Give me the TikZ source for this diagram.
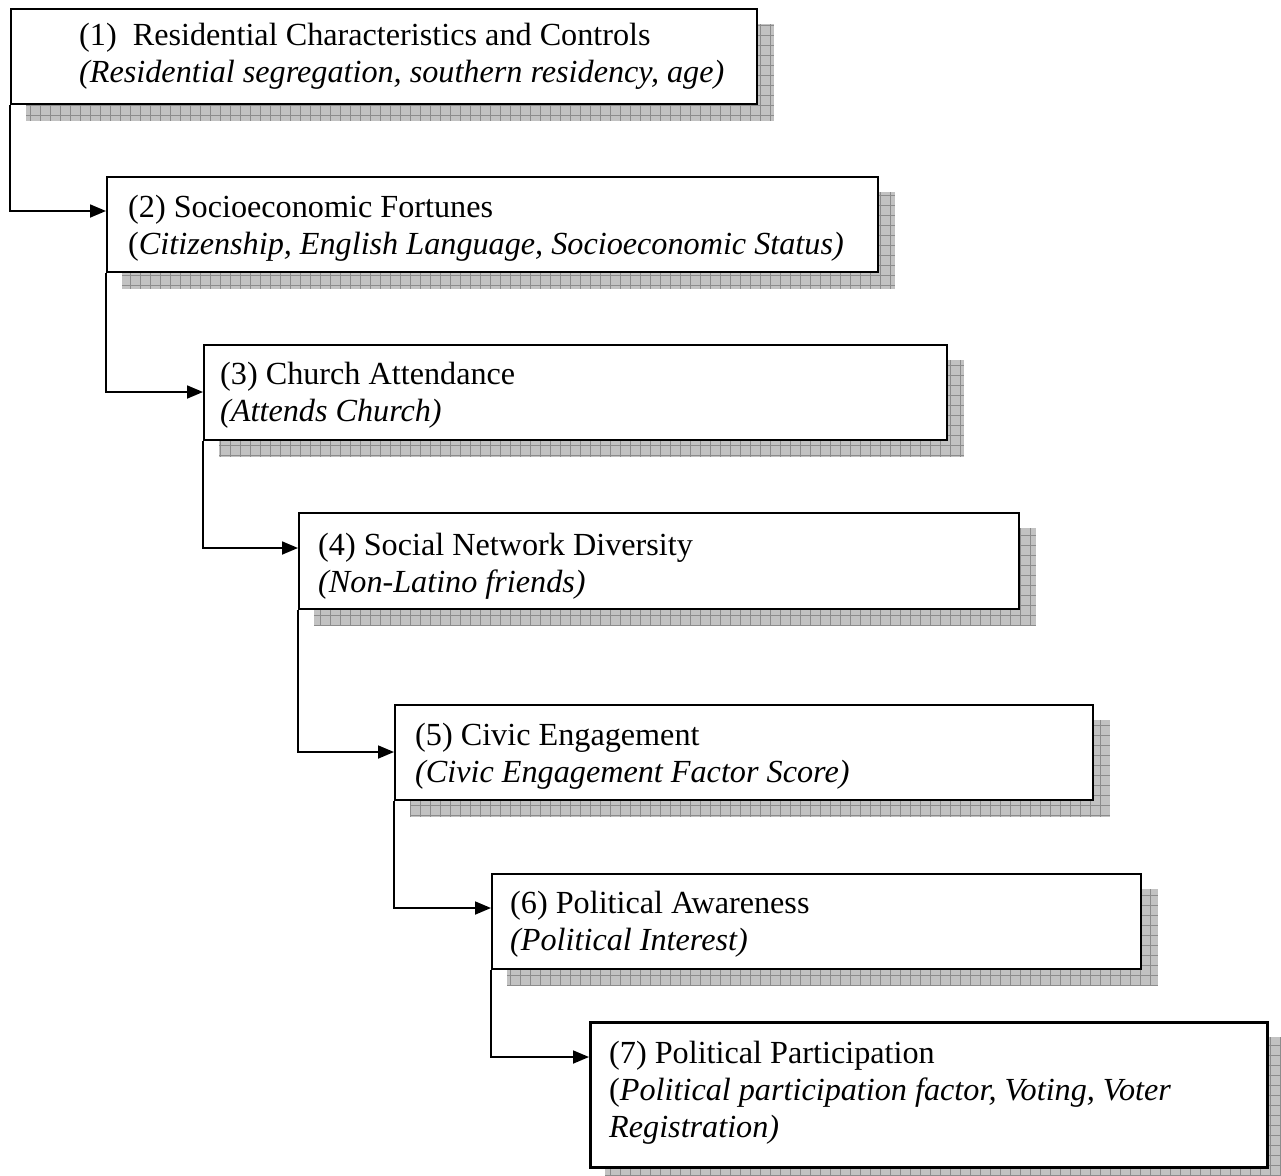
\documentclass[tikz,border=0pt]{standalone}
\usepackage{fontspec}
\setmainfont{Liberation Serif}
\usetikzlibrary{arrows.meta,patterns.meta,backgrounds,calc}
\begin{document}
\begin{tikzpicture}[x=1pt,y=-1pt,
  box/.style={draw, line width=1.8pt, fill=white, inner sep=0pt, anchor=north west},
  lbl/.style={anchor=north west, inner sep=0pt, align=left, font=\fontsize{32.2}{37}\selectfont},
  arr/.style={line width=1.8pt, -{Triangle[length=16pt,width=13pt]}},
  shfill/.style={fill=black!24},
  shgrid/.style={pattern color=black!45}
]
\useasboundingbox (0,0) rectangle (1281,1175);
\node[box, minimum width=746pt, minimum height=95pt] (b1) at (10,8) {};
\node[box, minimum width=771pt, minimum height=95pt] (b2) at (106,176) {};
\node[box, minimum width=743pt, minimum height=95pt] (b3) at (203,344) {};
\node[box, minimum width=720pt, minimum height=96pt] (b4) at (298,512) {};
\node[box, minimum width=698pt, minimum height=95pt] (b5) at (394,704) {};
\node[box, minimum width=649pt, minimum height=95pt] (b6) at (491,873) {};
\node[box, line width=3pt, minimum width=677pt, minimum height=145pt] (b7) at (589,1021) {};

\begin{scope}[on background layer]
\foreach \n in {b1,b2,b3,b4,b5,b6,b7}{
  \fill[shfill] ([shift={(16,16)}]\n.north west) rectangle ([shift={(16,16)}]\n.south east);
  \fill[shgrid, pattern={Lines[angle=0,distance=10pt,line width=0.7pt]}] ([shift={(16,16)}]\n.north west) rectangle ([shift={(16,16)}]\n.south east);
  \fill[shgrid, pattern={Lines[angle=90,distance=10pt,line width=0.7pt]}] ([shift={(16,16)}]\n.north west) rectangle ([shift={(16,16)}]\n.south east);
}
\end{scope}

\node[lbl] (t1) at (79,20) {\rule{0pt}{25pt}(1)\ \ Residential Characteristics and Controls\\\textit{(Residential segregation, southern residency, age)}};
\node[lbl] (t2) at (128,192) {\rule{0pt}{25pt}(2) Socioeconomic Fortunes\\(\textit{Citizenship, English Language, Socioeconomic Status)}};
\node[lbl] (t3) at (220,359) {\rule{0pt}{25pt}(3) Church Attendance\\\textit{(Attends Church)}};
\node[lbl] (t4) at (318,530) {\rule{0pt}{25pt}(4) Social Network Diversity\\\textit{(Non-Latino friends)}};
\node[lbl] (t5) at (415,720) {\rule{0pt}{25pt}(5) Civic Engagement\\\textit{(Civic Engagement Factor Score)}};
\node[lbl] (t6) at (510,888) {\rule{0pt}{25pt}(6) Political Awareness\\\textit{(Political Interest)}};
\node[lbl] (t7) at (609,1038) {\rule{0pt}{25pt}(7) Political Participation\\(\textit{Political participation factor, Voting, Voter}\\\textit{Registration)}};

\path (b2.north west) ++(0,35) coordinate (a2);
\path (b3.north west) ++(0,48) coordinate (a3);
\path (b4.north west) ++(0,36) coordinate (a4);
\path (b5.north west) ++(0,48) coordinate (a5);
\path (b6.north west) ++(0,35) coordinate (a6);
\path (b7.north west) ++(0,36) coordinate (a7);

\draw[arr] (b1.south west) |- (a2);
\draw[arr] (b2.south west) |- (a3);
\draw[arr] (b3.south west) |- (a4);
\draw[arr] (b4.south west) |- (a5);
\draw[arr] (b5.south west) |- (a6);
\draw[arr] (b6.south west) |- (a7);
\end{tikzpicture}
\end{document}
